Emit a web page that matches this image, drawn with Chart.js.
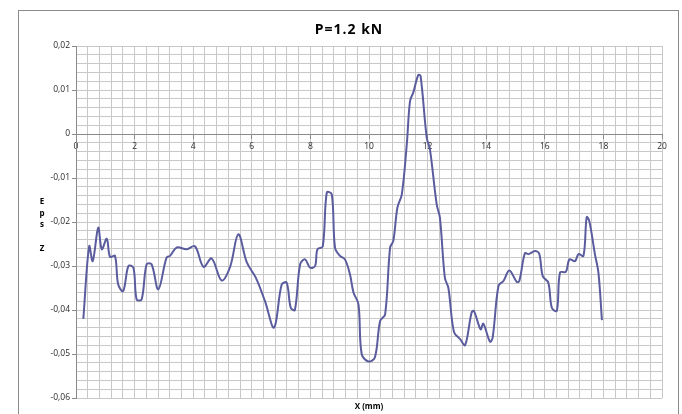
<!DOCTYPE html>
<html>
<head>
<meta charset="utf-8">
<script src="https://cdn.jsdelivr.net/npm/chart.js@4.4.1/dist/chart.umd.min.js"></script>
<style>
  html, body { margin: 0; padding: 0; background: #ffffff; }
  #wrap { position: relative; width: 682px; height: 414px; }
</style>
</head>
<body>
<div id="wrap"><canvas id="c" width="682" height="414"></canvas></div>
<script>
// ---- data ----
const chartTitle = "P=1.2 kN";
const xAxisTitle = "X (mm)";
const yAxisTitleLetters = ["E", "p", "s", "", "Z"];

const xValues = [0.25, 0.45, 0.57, 0.76, 0.88, 1.05, 1.16, 1.33, 1.44, 1.61, 1.79, 1.96, 2.07, 2.24, 2.41, 2.58, 2.81,
  3.09, 3.21, 3.44, 3.78, 4.06, 4.35, 4.63, 4.97, 5.26, 5.54, 5.83, 6.14, 6.45, 6.76, 7.02, 7.19, 7.33, 7.47, 7.65,
  7.82, 7.99, 8.16, 8.24, 8.42, 8.56, 8.73, 8.84, 9.01, 9.18, 9.35, 9.47, 9.64, 9.75, 9.98, 10.20, 10.38, 10.55,
  10.72, 10.83, 10.97, 11.12, 11.29, 11.40, 11.51, 11.68, 11.76, 11.97, 12.08, 12.31, 12.42, 12.59, 12.71, 12.90,
  13.11, 13.28, 13.50, 13.58, 13.81, 13.90, 14.13, 14.22, 14.42, 14.59, 14.79, 15.04, 15.13, 15.32, 15.44, 15.67,
  15.81, 15.93, 16.12, 16.24, 16.41, 16.52, 16.72, 16.84, 17.03, 17.15, 17.32, 17.43, 17.52, 17.71, 17.83, 17.95];

const epsZ = [-0.0420, -0.0255, -0.0289, -0.0213, -0.0262, -0.0238, -0.0279, -0.0277, -0.0342, -0.0357, -0.0300,
  -0.0304, -0.0376, -0.0376, -0.0296, -0.0296, -0.0353, -0.0281, -0.0277, -0.0258, -0.0262, -0.0255, -0.0302,
  -0.0283, -0.0333, -0.0302, -0.0228, -0.0292, -0.0327, -0.0380, -0.0440, -0.0342, -0.0338, -0.0395, -0.0400,
  -0.0296, -0.0285, -0.0304, -0.0300, -0.0262, -0.0256, -0.0133, -0.0137, -0.0258, -0.0277, -0.0285, -0.0319,
  -0.0360, -0.0387, -0.0500, -0.0517, -0.0508, -0.0425, -0.0410, -0.0258, -0.0243, -0.0167, -0.0137, -0.0023,
  0.0075, 0.0094, 0.0134, 0.0132, -0.0008, -0.0035, -0.0160, -0.0190, -0.0327, -0.0350, -0.0450, -0.0466,
  -0.0480, -0.0406, -0.0402, -0.0444, -0.0431, -0.0472, -0.0463, -0.0345, -0.0334, -0.0310, -0.0336, -0.0334,
  -0.0271, -0.0273, -0.0266, -0.0272, -0.0323, -0.0338, -0.0395, -0.0402, -0.0315, -0.0313, -0.0285, -0.0289,
  -0.0273, -0.0277, -0.0189, -0.0198, -0.0273, -0.0315, -0.0423];

const xMin = 0, xMax = 20, xMajor = 2, xMinor = 0.4;
const yMin = -0.06, yMax = 0.02, yMajor = 0.01, yMinor = 0.002;

// ---- helpers ----
const isMult = (v, step) => Math.abs(v / step - Math.round(v / step)) < 1e-6;
const fmtY = v => {
  if (Math.abs(v) < 1e-9) return "0";
  return v.toFixed(2).replace(".", ",");
};

const points = xValues.map((x, i) => ({ x: x, y: epsZ[i] }));

const decor = {
  id: "decor",
  beforeDraw(chart) {
    const ctx = chart.ctx;
    ctx.save();
    ctx.fillStyle = "#ffffff";
    ctx.fillRect(0, 0, chart.width, chart.height);
    ctx.strokeStyle = "#8a8a8a";
    ctx.lineWidth = 1;
    ctx.strokeRect(18.5, 10.5, 660, 420);
    ctx.restore();
  },
  afterDraw(chart) {
    const ctx = chart.ctx;
    const ca = chart.chartArea;
    ctx.save();
    ctx.fillStyle = "#000000";
    ctx.textAlign = "center";
    ctx.textBaseline = "middle";
    ctx.font = "bold 14px 'Open Sans', sans-serif";
    try { ctx.letterSpacing = "1px"; } catch (e) {}
    ctx.fillText(chartTitle, 349, 30);
    try { ctx.letterSpacing = "0px"; } catch (e) {}
    ctx.font = "bold 8px 'Open Sans', sans-serif";
    ctx.fillText(xAxisTitle, (ca.left + ca.right) / 2, 407);
    let yy = 202;
    yAxisTitleLetters.forEach(ch => {
      if (ch) ctx.fillText(ch, 42, yy);
      yy += 11.6;
    });
    ctx.restore();
  }
};

new Chart(document.getElementById("c"), {
  type: "line",
  data: {
    datasets: [{
      data: points,
      borderColor: "#5a5c9e",
      borderWidth: 2,
      pointRadius: 0,
      tension: 0.35,
      fill: false
    }]
  },
  options: {
    responsive: false,
    animation: false,
    events: [],
    layout: { padding: { left: 18, top: 46, right: 20, bottom: 16 } },
    plugins: { legend: { display: false }, tooltip: { enabled: false }, title: { display: false } },
    scales: {
      x: {
        type: "linear",
        position: { y: 0 },
        min: xMin, max: xMax,
        border: { display: true, color: "#8a8a8a", width: 1 },
        grid: {
          color: "#c8c8c8",
          lineWidth: 1,
          drawTicks: true,
          tickLength: 4,
          tickColor: c => isMult(c.tick.value, xMajor) ? "#8a8a8a" : "rgba(0,0,0,0)"
        },
        ticks: {
          stepSize: xMinor,
          autoSkip: false,
          maxRotation: 0,
          padding: 3,
          color: "#2a2a2a",
          font: { family: "'Open Sans', sans-serif", size: 8.5 },
          callback: v => isMult(v, xMajor) ? String(Math.round(v)) : ""
        }
      },
      y: {
        type: "linear",
        position: "left",
        min: yMin, max: yMax,
        afterFit: s => { s.width = 58; },
        border: { display: true, color: "#8a8a8a", width: 1 },
        grid: {
          color: "#c8c8c8",
          lineWidth: 1,
          drawTicks: true,
          tickLength: 4,
          tickColor: c => isMult(c.tick.value, yMajor) ? "#8a8a8a" : "rgba(0,0,0,0)"
        },
        ticks: {
          stepSize: yMinor,
          autoSkip: false,
          padding: 2,
          color: "#2a2a2a",
          font: { family: "'Open Sans', sans-serif", size: 8.5 },
          callback: v => isMult(v, yMajor) ? fmtY(v) : ""
        }
      }
    }
  },
  plugins: [decor]
});
</script>
</body>
</html>
